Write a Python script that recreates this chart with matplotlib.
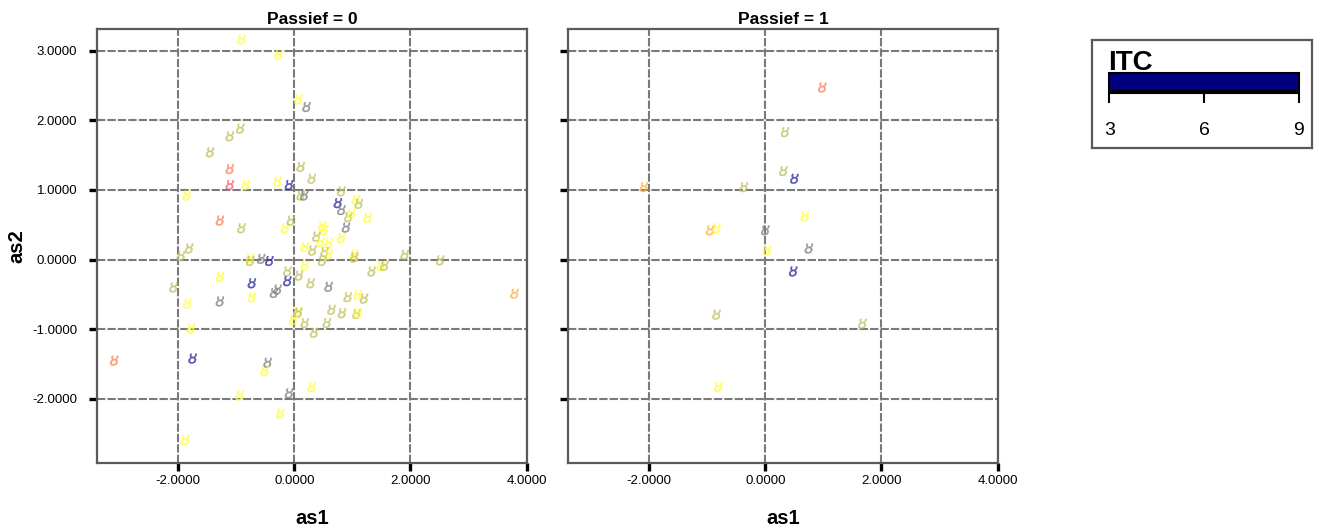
import matplotlib
matplotlib.use("Agg")
import matplotlib.pyplot as plt
import numpy as np
from matplotlib.colors import ListedColormap, Normalize
from matplotlib.cm import ScalarMappable
from matplotlib.ticker import FormatStrFormatter, FixedLocator

plt.rcParams['font.family'] = ['Liberation Sans', 'DejaVu Sans']
plt.rcParams['axes.unicode_minus'] = False

# ---------------- data ----------------
# Passief = 0
as1_p0 = [-0.91, -0.27, 0.07, 0.21, -0.93, -1.11, -1.45, -1.11, 0.11, -1.11,
          -0.84, -0.29, -0.09, 0.11, 0.17, -1.85, -1.28, -0.91, -0.16, -0.06,
          0.30, 0.81, 0.75, 1.06, 1.11, 0.81, 0.93, 0.98, 1.26, 0.89,
          0.48, 0.51, 0.38, 0.81, 0.45, 0.59, 0.18, 0.31, 0.52, 0.59,
          1.03, 1.03, 1.90, 2.51, -0.57, -0.43, 0.18, 0.48, 1.49, 1.55,
          -0.12, 1.33, 0.08, 0.28, -0.73, -0.12, 0.59, -0.35, -0.29, -0.73,
          0.92, 1.09, 1.20, 0.64, 0.82, 1.07, 1.09, 0.05, 0.07, 0.18,
          -0.02, 0.56, 0.34, -1.81, -1.95, -0.76, -0.76, -2.08, -1.28, -1.28,
          -1.84, -1.78, -3.10, -1.75, -0.46, -0.51, -0.94, -0.09, -0.24, -1.88,
          3.79, 0.30]
as2_p0 = [3.16, 2.94, 2.30, 2.19, 1.88, 1.77, 1.54, 1.30, 1.33, 1.07,
          1.07, 1.12, 1.07, 0.92, 0.92, 0.92, 0.56, 0.45, 0.45, 0.56,
          1.16, 0.98, 0.81, 0.86, 0.80, 0.71, 0.61, 0.66, 0.60, 0.46,
          0.48, 0.42, 0.33, 0.31, 0.25, 0.23, 0.18, 0.13, 0.11, 0.07,
          0.07, 0.03, 0.07, -0.01, 0.01, -0.02, -0.09, -0.02, -0.09, -0.09,
          -0.17, -0.17, -0.23, -0.34, -0.34, -0.31, -0.39, -0.48, -0.43, -0.54,
          -0.54, -0.51, -0.56, -0.72, -0.77, -0.78, -0.77, -0.75, -0.76, -0.91,
          -0.87, -0.91, -1.05, 0.16, 0.05, 0.02, -0.02, -0.40, -0.25, -0.60,
          -0.63, -0.99, -1.45, -1.42, -1.48, -1.60, -1.95, -1.92, -2.21, -2.59,
          -0.49, -1.83]
itc_p0 = [6, 6, 6, 8, 7, 7, 7, 4, 7, 3,
          6, 6, 9, 7, 8, 6, 4, 7, 6, 7,
          7, 7, 9, 6, 7, 8, 7, 6, 6, 8,
          6, 6, 7, 6, 6, 6, 6, 7, 7, 6,
          6, 7, 7, 7, 8, 9, 6, 7, 6, 7,
          7, 7, 7, 7, 9, 9, 8, 8, 8, 6,
          7, 6, 7, 7, 7, 7, 6, 6, 7, 7,
          6, 7, 7, 7, 7, 6, 7, 7, 6, 8,
          6, 6, 4, 9, 8, 6, 6, 8, 6, 6,
          5, 6]

# Passief = 1
as1_p1 = [0.98, 0.34, 0.31, 0.50, -2.09, -0.37, 0.68, -0.95, -0.84, 0.00,
          0.03, 0.75, 0.48, -0.84, 1.67, -0.81]
as2_p1 = [2.47, 1.83, 1.27, 1.16, 1.04, 1.04, 0.62, 0.42, 0.45, 0.42,
          0.13, 0.16, -0.17, -0.79, -0.92, -1.83]
itc_p1 = [4, 7, 7, 9, 5, 7, 6, 5, 6, 8,
          6, 8, 9, 7, 7, 6]

panel_titles = ["Passief = 0", "Passief = 1"]
x_ticks = [-2, 0, 2, 4]
y_ticks = [-2, -1, 0, 1, 2, 3]
itc_ticks = [3, 6, 9]

# point palette per ITC level
palette = {3: '#ff5a6e', 4: '#ff7f5a', 5: '#ffb040', 6: '#ffff30',
           7: '#c0c060', 8: '#808080', 9: '#2a2a9a'}

W, H = 1323, 532
fig = plt.figure(figsize=(W / 100, H / 100), dpi=100)


def box(x0, y0, x1, y1):
    return [x0 / W, 1 - y1 / H, (x1 - x0) / W, (y1 - y0) / H]


ax0 = fig.add_axes(box(97.3, 29, 526.7, 462.7))
ax1 = fig.add_axes(box(568.3, 29, 997.7, 462.7), sharey=ax0)

frame_col = '#5a5a5a'
for ax, xs, ys, cs, title in [(ax0, as1_p0, as2_p0, itc_p0, panel_titles[0]),
                              (ax1, as1_p1, as2_p1, itc_p1, panel_titles[1])]:
    cols = [palette[c] for c in cs]
    ax.scatter(xs, ys, c=cols, marker='$ȣ$', s=50, alpha=0.75,
               linewidths=0.3, zorder=3)
    ax.set_xlim(-3.39, 4.0)
    ax.set_ylim(-2.915, 3.31)
    ax.xaxis.set_major_locator(FixedLocator(x_ticks))
    ax.yaxis.set_major_locator(FixedLocator(y_ticks))
    ax.xaxis.set_major_formatter(FormatStrFormatter('%.4f'))
    ax.yaxis.set_major_formatter(FormatStrFormatter('%.4f'))
    ax.grid(True, color='#7a7a7a', linestyle=(0, (4, 1)), linewidth=1.5, zorder=1)
    ax.set_axisbelow(True)
    for sp in ax.spines.values():
        sp.set_color(frame_col)
        sp.set_linewidth(1.6)
    ax.tick_params(axis='both', direction='out', length=5.5, width=2.4,
                   color='black', labelsize=9.5, pad=3)
    ax.set_title(title, fontsize=12.5, fontweight='bold', pad=3.5)
    ax.set_xlabel('as1', fontsize=14.5, fontweight='bold', labelpad=16)

ax0.tick_params(axis='y', pad=9)
ax0.set_ylabel('as2', fontsize=14.5, fontweight='bold', labelpad=4)
plt.setp(ax1.get_yticklabels(), visible=False)

# ---------------- legend box ----------------
lax = fig.add_axes(box(1092, 40, 1312, 148))
lax.set_xticks([])
lax.set_yticks([])
for sp in lax.spines.values():
    sp.set_color(frame_col)
    sp.set_linewidth(1.6)
fig.text(1108 / W, 1 - 70 / H, 'ITC', fontsize=20, fontweight='bold',
         va='baseline', ha='left')

cax = fig.add_axes(box(1109.3, 73.3, 1299, 90.7))
sm = ScalarMappable(norm=Normalize(min(itc_ticks), max(itc_ticks)),
                    cmap=ListedColormap(['#000080']))
cb = fig.colorbar(sm, cax=cax, orientation='horizontal')
cb.outline.set_edgecolor('black')
cb.outline.set_linewidth(1.5)
cax.set_xticks([])

sax = fig.add_axes(box(1109.3, 92.5, 1299, 93.3))
sax.set_xlim(min(itc_ticks), max(itc_ticks))
sax.set_facecolor('none')
for k in ['top', 'left', 'right']:
    sax.spines[k].set_visible(False)
sax.spines['bottom'].set_linewidth(1.5)
sax.set_yticks([])
sax.set_xticks(itc_ticks)
sax.set_xticklabels([str(t) for t in itc_ticks])
sax.tick_params(axis='x', direction='out', length=7.5, width=1.5, labelsize=14, pad=13)

fig.savefig('out.png', dpi=100)
